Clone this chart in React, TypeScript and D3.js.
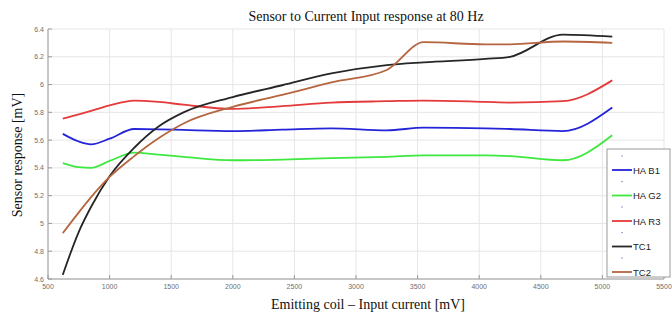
import React from "react";
import * as d3 from "d3";

const xValues = [620, 750, 850, 1000, 1200, 1400, 1600, 2000, 2400, 2800, 3250, 3550, 4050, 4250, 4680, 5080];
const haB1 = [5.645, 5.59, 5.57, 5.61, 5.68, 5.678, 5.673, 5.665, 5.675, 5.685, 5.67, 5.69, 5.685, 5.68, 5.665, 5.835];
const haG2 = [5.435, 5.405, 5.4, 5.45, 5.51, 5.495, 5.48, 5.455, 5.46, 5.47, 5.48, 5.49, 5.49, 5.485, 5.455, 5.635];
const haR3 = [5.755, 5.785, 5.81, 5.85, 5.885, 5.875, 5.855, 5.825, 5.845, 5.87, 5.88, 5.885, 5.875, 5.87, 5.88, 6.03];
const tc1 = [4.63, 4.94, 5.12, 5.34, 5.545, 5.7, 5.8, 5.91, 5.995, 6.08, 6.14, 6.16, 6.185, 6.2, 6.36, 6.345];
const tc2 = [4.93, 5.08, 5.19, 5.335, 5.485, 5.615, 5.72, 5.84, 5.925, 6.015, 6.105, 6.305, 6.29, 6.29, 6.31, 6.3];

const seriesNames = ["HA B1", "HA G2", "HA R3", "TC1", "TC2"];
const seriesColors = ["#2424d8", "#3ee83e", "#e43a3a", "#262626", "#b5653f"];
const seriesData = [haB1, haG2, haR3, tc1, tc2];

const xTicks = [500, 1000, 1500, 2000, 2500, 3000, 3500, 4000, 4500, 5000, 5500];
const yTicks = [4.6, 4.8, 5, 5.2, 5.4, 5.6, 5.8, 6, 6.2, 6.4];

const W = 672, H = 320;
const left = 48, right = 664, top = 29, bottom = 279;

export default function App() {
  const x = d3.scaleLinear().domain([500, 5500]).range([left, right]);
  const y = d3.scaleLinear().domain([4.6, 6.4]).range([bottom, top]);
  const line = d3.line<[number, number]>()
    .x((d) => x(d[0]))
    .y((d) => y(d[1]))
    .curve(d3.curveMonotoneX);
  const tickFont = "Liberation Sans, Arial, sans-serif";
  const legX = 607, legY = 149, legW = 63, legH = 128;
  return (
    <svg width={W} height={H} style={{ position: "absolute", left: 0, top: 0, background: "#fff" }}>
      <rect x={0} y={0} width={W} height={H} fill="#fff" />
      {xTicks.map((t) => (
        <line key={"gx" + t} x1={x(t)} x2={x(t)} y1={top} y2={bottom} stroke="#e6e6e6" strokeWidth={1} />
      ))}
      {yTicks.map((t) => (
        <line key={"gy" + t} x1={left} x2={right} y1={y(t)} y2={y(t)} stroke="#e6e6e6" strokeWidth={1} />
      ))}
      <line x1={left} x2={left} y1={top} y2={bottom} stroke="#9a9a9a" strokeWidth={1} />
      <line x1={left} x2={right} y1={bottom} y2={bottom} stroke="#9a9a9a" strokeWidth={1} />
      {xTicks.map((t) => (
        <g key={"tx" + t}>
          <line x1={x(t)} x2={x(t)} y1={bottom} y2={bottom - 4} stroke="#9a9a9a" />
          <text x={x(t)} y={bottom + 10} fontSize={7} fill="#6f6f6f" textAnchor="middle" fontFamily={tickFont}>{t}</text>
        </g>
      ))}
      {yTicks.map((t) => (
        <g key={"ty" + t}>
          <line x1={left} x2={left + 4} y1={y(t)} y2={y(t)} stroke="#9a9a9a" />
          <text x={left - 4} y={y(t) + 2.5} fontSize={7} fill="#6f6f6f" textAnchor="end" fontFamily={tickFont}>{String(t)}</text>
        </g>
      ))}
      {seriesData.map((vals, i) => (
        <path
          key={seriesNames[i]}
          d={line(vals.map((v, j) => [xValues[j], v] as [number, number])) || ""}
          fill="none"
          stroke={seriesColors[i]}
          strokeWidth={1.8}
        />
      ))}
      <text x={366} y={21} fontSize={14} textAnchor="middle" fontFamily="Liberation Serif, serif" fill="#111">
        Sensor to Current Input response at 80 Hz
      </text>
      <text x={368} y={309} fontSize={14} textAnchor="middle" fontFamily="Liberation Serif, serif" fill="#111">
        Emitting coil – Input current [mV]
      </text>
      <text transform="translate(22,155) rotate(-90)" fontSize={14} textAnchor="middle" fontFamily="Liberation Serif, serif" fill="#111">
        Sensor response [mV]
      </text>
      <rect x={legX} y={legY} width={legW} height={legH} fill="#fff" stroke="#9a9a9a" strokeWidth={1} />
      {seriesNames.map((n, i) => {
        const cy = legY + 21 + i * 25.5;
        return (
          <g key={"lg" + n}>
            <circle cx={legX + 15} cy={cy - 14} r={0.8} fill="#8888cc" />
            <line x1={legX + 5} x2={legX + 25} y1={cy} y2={cy} stroke={seriesColors[i]} strokeWidth={1.8} />
            <text x={legX + 26} y={cy + 3.5} fontSize={9.5} fontFamily={tickFont} fill="#222">{n}</text>
          </g>
        );
      })}
    </svg>
  );
}
